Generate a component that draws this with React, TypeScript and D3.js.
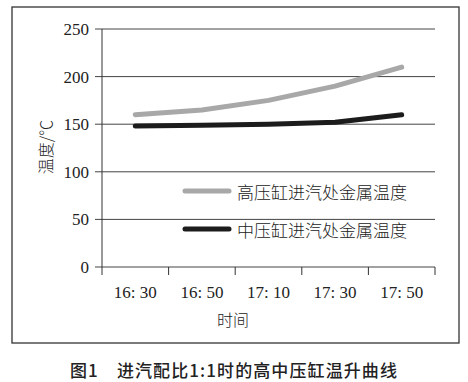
import React from "react";
import * as d3 from "d3";

const categories = ["16: 30", "16: 50", "17: 10", "17: 30", "17: 50"];
const highSeries = [160, 165, 175, 190, 210];
const midSeries = [148, 149, 150, 152, 160];
const yTicks = [0, 50, 100, 150, 200, 250];
const seriesNames = ["高压缸进汽处金属温度", "中压缸进汽处金属温度"];
const seriesColors = ["#a8a8a8", "#1c1c1c"];

const serif = "'Liberation Serif', 'DejaVu Serif', serif";
const cjk = "'Noto Sans CJK SC', sans-serif";

export default function App() {
  const x = d3.scaleBand<string>().domain(categories).range([102, 435]);
  const y = d3.scaleLinear().domain([0, 250]).range([267, 29]);
  const line = d3
    .line<number>()
    .x((_, i) => (x(categories[i]) as number) + x.bandwidth() / 2)
    .y((d) => y(d))
    .curve(d3.curveLinear);
  const bounds = categories.map((c) => x(c) as number).concat([x.range()[1]]);
  const series = [highSeries, midSeries];
  const legendY = [191, 229];

  return (
    <svg
      width={468}
      height={382}
      style={{ position: "absolute", left: 0, top: 0, background: "#fff" }}
    >
      <rect x={12} y={7} width={447} height={336} fill="none" stroke="#333" strokeWidth={1.3} />
      {yTicks.map((t) => (
        <g key={t}>
          <line x1={95} x2={435} y1={y(t)} y2={y(t)} stroke="#444" strokeWidth={1} />
          <text
            x={89}
            y={y(t)}
            dy="0.35em"
            textAnchor="end"
            fontFamily={serif}
            fontSize={17}
            fill="#222"
          >
            {t}
          </text>
        </g>
      ))}
      <line x1={102} x2={102} y1={y(250)} y2={y(0)} stroke="#333" strokeWidth={1} />
      {bounds.map((b, i) => (
        <line key={i} x1={b} x2={b} y1={y(0)} y2={y(0) + 8} stroke="#333" strokeWidth={1} />
      ))}
      {categories.map((c) => (
        <text
          key={c}
          x={(x(c) as number) + x.bandwidth() / 2}
          y={292}
          dy="0.35em"
          textAnchor="middle"
          fontFamily={serif}
          fontSize={17}
          fill="#222"
        >
          {c}
        </text>
      ))}
      <text x={233} y={320} dy="0.35em" textAnchor="middle" fontFamily={cjk} fontWeight={300} fontSize={16} fill="#222">
        时间
      </text>
      <text
        transform="translate(46,147) rotate(-90)"
        textAnchor="middle"
        dy="0.35em"
        fontFamily={cjk}
        fontWeight={300}
        fontSize={16}
        fill="#222"
      >
        温度/℃
      </text>
      {series.map((s, i) => (
        <path
          key={i}
          d={line(s) as string}
          fill="none"
          stroke={seriesColors[i]}
          strokeWidth={5}
          strokeLinecap="round"
          strokeLinejoin="round"
        />
      ))}
      {seriesNames.map((n, i) => (
        <g key={n}>
          <line
            x1={185}
            x2={229}
            y1={legendY[i]}
            y2={legendY[i]}
            stroke={seriesColors[i]}
            strokeWidth={5}
            strokeLinecap="round"
          />
          <text
            x={237}
            y={legendY[i] + 2}
            dy="0.35em"
            fontFamily={cjk}
            fontWeight={300}
            fontSize={17}
            fill="#222"
          >
            {n}
          </text>
        </g>
      ))}
      <text
        x={234}
        y={371}
        dy="0.35em"
        textAnchor="middle"
        fontFamily={cjk}
        fontWeight={500}
        fontSize={17}
        letterSpacing={1.1}
        fill="#222"
      >
        图1　进汽配比1:1时的高中压缸温升曲线
      </text>
    </svg>
  );
}
